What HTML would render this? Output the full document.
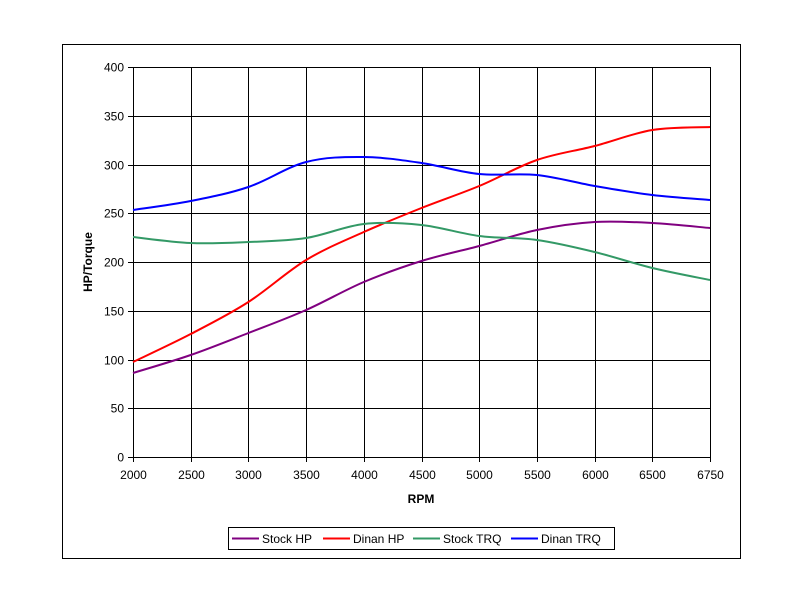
<!DOCTYPE html>
<html><head><style>
body{margin:0;background:#fff;}
svg{display:block;font-family:"Liberation Sans",Arial,sans-serif;}
</style></head><body>
<svg id="s" width="800" height="600" xmlns="http://www.w3.org/2000/svg">
<rect x="0" y="0" width="800" height="600" fill="#fff"/>
<rect x="62.5" y="44.5" width="678" height="514" fill="#fff" stroke="#000" stroke-width="1"/>
<g id="grid" stroke="#000" stroke-width="1"></g>
<g id="lab" font-size="12" fill="#000"></g>
<text x="421" y="503" font-size="12" font-weight="bold" text-anchor="middle">RPM</text>
<text transform="translate(92,262) rotate(-90)" font-size="12" font-weight="bold" text-anchor="middle">HP/Torque</text>
<g id="ser" fill="none" stroke-width="2"></g>
<rect x="228.5" y="527.5" width="386" height="22" fill="#fff" stroke="#000"/>
<g font-size="12">
<line x1="232" y1="538.5" x2="259" y2="538.5" stroke="#800080" stroke-width="2"/><text x="262" y="543">Stock HP</text>
<line x1="323" y1="538.5" x2="350" y2="538.5" stroke="#ff0000" stroke-width="2"/><text x="353" y="543">Dinan HP</text>
<line x1="413" y1="538.5" x2="440" y2="538.5" stroke="#339966" stroke-width="2"/><text x="443" y="543">Stock TRQ</text>
<line x1="511" y1="538.5" x2="538" y2="538.5" stroke="#0000ff" stroke-width="2"/><text x="541" y="543">Dinan TRQ</text>
</g>
</svg>
<script>
var NS="http://www.w3.org/2000/svg";
function el(p,t,a,txt){var e=document.createElementNS(NS,t);for(var k in a)e.setAttribute(k,a[k]);if(txt)e.textContent=txt;document.getElementById(p).appendChild(e);}
var xs=[],cats=["2000","2500","3000","3500","4000","4500","5000","5500","6000","6500","6750"];
for(var i=0;i<11;i++)xs.push(133+i*57.7);
for(var v=0;v<=400;v+=50){var y=Math.round(457-v*0.975)+0.5;
 el("grid","line",{x1:128,y1:y,x2:710,y2:y});
 el("lab","text",{x:124,y:y+4,"text-anchor":"end"},String(v));}
for(var i=0;i<11;i++){var x=Math.round(xs[i])+0.5;
 el("grid","line",{x1:x,y1:67,x2:x,y2:462});
 el("lab","text",{x:x,y:479,"text-anchor":"middle"},cats[i]);}
var data={
"#800080":[373,355,333,310,282,261,246,230,222,223,228],
"#ff0000":[362,334,302,260,232,208,186,160,146,130,127],
"#339966":[237,243,242,238,224,225,236,240,252,268,280],
"#0000ff":[210,201,187,162,157,163,174,175,186,195,200]};
for(var c in data){var ys=data[c],P=xs.map(function(x,i){return[x,ys[i]]});
 var d="M"+P[0][0]+","+P[0][1];
 for(var i=0;i<P.length-1;i++){var p0=P[Math.max(0,i-1)],p1=P[i],p2=P[i+1],p3=P[Math.min(P.length-1,i+2)];
  var t=1/6;
  d+=" C"+(p1[0]+(p2[0]-p0[0])*t)+","+(p1[1]+(p2[1]-p0[1])*t)+" "+(p2[0]-(p3[0]-p1[0])*t)+","+(p2[1]-(p3[1]-p1[1])*t)+" "+p2[0]+","+p2[1];}
 el("ser","path",{d:d,stroke:c});}
</script>
</body></html>
